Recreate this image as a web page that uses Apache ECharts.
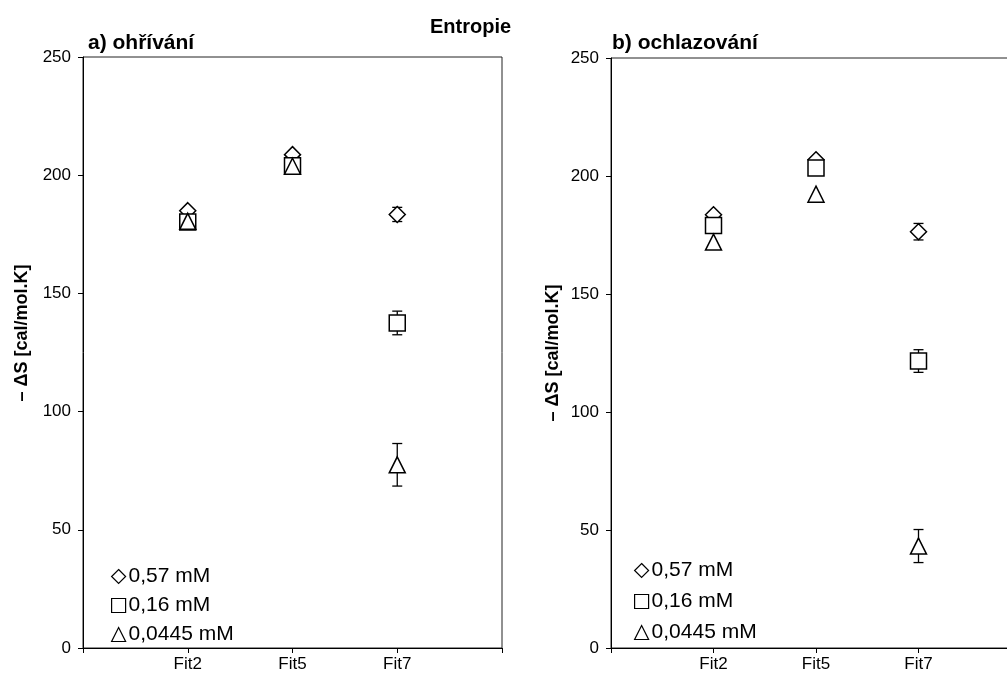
<!DOCTYPE html>
<html>
<head>
<meta charset="utf-8">
<script src="https://cdn.jsdelivr.net/npm/echarts@6/dist/echarts.min.js"></script>
<style>
html,body{margin:0;padding:0;background:#fff;}
#c{width:1007px;height:678px;}
</style>
</head>
<body>
<div id="c"></div>
<script>
// ---- data ----
var categories = ['Fit2', 'Fit5', 'Fit7'];
var seriesNames = ['0,57 mM', '0,16 mM', '0,0445 mM'];
var yTicks = [0, 50, 100, 150, 200, 250];

// a) heating
var heatHigh = [185, 208.7, 183.4];
var heatHighErr = [0, 0, 3];
var heatMid = [180.2, 204, 137.5];
var heatMidErr = [0, 0, 5];
var heatLow = [180.5, 203.8, 77.5];
var heatLowErr = [0, 0, 9];

// b) cooling
var coolHigh = [183.6, 206.9, 176.4];
var coolHighErr = [0, 0, 3.5];
var coolMid = [179, 203.4, 121.6];
var coolMidErr = [0, 0, 4.8];
var coolLow = [172, 192.3, 43.2];
var coolLowErr = [0, 0, 7];

var chart = echarts.init(document.getElementById('c'));
var FONT = 'Liberation Sans, Arial, sans-serif';
var symbols = ['diamond', 'rect', 'triangle'];

function pts(vals) {
  return vals.map(function (v, i) { return [i + 1, v]; });
}
function errPts(vals, errs) {
  var out = [];
  vals.forEach(function (v, i) {
    if (errs[i] > 0) out.push([i + 1, v - errs[i], v + errs[i]]);
  });
  return out;
}
function errRender(params, api) {
  var x = api.value(0);
  var lo = api.coord([x, api.value(1)]);
  var hi = api.coord([x, api.value(2)]);
  var hw = 5;
  var st = { stroke: '#000', lineWidth: 1.3 };
  return {
    type: 'group',
    children: [
      { type: 'line', shape: { x1: lo[0], y1: lo[1], x2: hi[0], y2: hi[1] }, style: st },
      { type: 'line', shape: { x1: lo[0] - hw, y1: lo[1], x2: lo[0] + hw, y2: lo[1] }, style: st },
      { type: 'line', shape: { x1: hi[0] - hw, y1: hi[1], x2: hi[0] + hw, y2: hi[1] }, style: st }
    ]
  };
}

function xAxisFor(gi) {
  return {
    gridIndex: gi, type: 'value', min: 0, max: 4, interval: 1,
    axisLine: { show: true, onZero: false, lineStyle: { color: '#000', width: 1 } },
    axisTick: { show: true, length: 5, lineStyle: { color: '#000' } },
    axisLabel: {
      color: '#000', fontSize: 17, fontFamily: FONT, margin: 8,
      formatter: function (v) { return categories[v - 1] || ''; }
    },
    splitLine: { show: false }
  };
}
function yAxisFor(gi) {
  return {
    gridIndex: gi, type: 'value', min: yTicks[0], max: yTicks[yTicks.length - 1], interval: 50,
    axisLine: { show: true, onZero: false, lineStyle: { color: '#000', width: 1 } },
    axisTick: { show: true, length: 5, lineStyle: { color: '#000' } },
    axisLabel: { color: '#000', fontSize: 17, fontFamily: FONT, margin: 12 },
    splitLine: { show: false }
  };
}

var sets = [
  { vals: [heatHigh, heatMid, heatLow], errs: [heatHighErr, heatMidErr, heatLowErr] },
  { vals: [coolHigh, coolMid, coolLow], errs: [coolHighErr, coolMidErr, coolLowErr] }
];

var series = [];
sets.forEach(function (s, gi) {
  s.vals.forEach(function (v, k) {
    series.push({
      type: 'custom', xAxisIndex: gi, yAxisIndex: gi, z: 2,
      renderItem: errRender, data: errPts(v, s.errs[k]), silent: true
    });
  });
  s.vals.forEach(function (v, k) {
    series.push({
      type: 'scatter', name: seriesNames[k], xAxisIndex: gi, yAxisIndex: gi, z: 3 + k,
      symbol: symbols[k], symbolSize: 16,
      itemStyle: { color: '#fff', borderColor: '#000', borderWidth: 1.5, opacity: 1 },
      data: pts(v), animation: false
    });
  });
});

function legendAt(left, top, gap) {
  return {
    orient: 'vertical', left: left, top: top, itemGap: gap,
    itemWidth: 14, itemHeight: 14,
    data: seriesNames,
    selectedMode: false,
    itemStyle: { color: '#fff', borderColor: '#000', borderWidth: 1.2 },
    textStyle: { color: '#000', fontSize: 21, fontFamily: FONT, padding: [0, 0, 0, -2] }
  };
}

var option = {
  backgroundColor: '#fff',
  animation: false,
  grid: [
    { left: 83, top: 57, width: 419, height: 591, show: true, borderColor: '#222', borderWidth: 1,
      backgroundColor: 'transparent', outerBoundsMode: 'none', containLabel: false },
    { left: 611, top: 58, width: 410, height: 590, show: true, borderColor: '#222', borderWidth: 1,
      backgroundColor: 'transparent', outerBoundsMode: 'none', containLabel: false }
  ],
  xAxis: [xAxisFor(0), xAxisFor(1)],
  yAxis: [yAxisFor(0), yAxisFor(1)],
  legend: [legendAt(106, 561, 8), legendAt(629, 555, 10)],
  series: series,
  graphic: [
    { type: 'text', left: 430, top: 17, style: { text: 'Entropie', font: 'bold 20px ' + FONT, fill: '#000' } },
    { type: 'text', left: 88, top: 33, style: { text: 'a) ohřívání', font: 'bold 21px ' + FONT, fill: '#000' } },
    { type: 'text', left: 612, top: 33, style: { text: 'b) ochlazování', font: 'bold 21px ' + FONT, fill: '#000' } },
    { type: 'text', x: 22, y: 333, rotation: Math.PI / 2,
      style: { text: '– ΔS [cal/mol.K]', font: 'bold 18px ' + FONT, fill: '#000', align: 'center', verticalAlign: 'middle' } },
    { type: 'text', x: 553, y: 353, rotation: Math.PI / 2,
      style: { text: '– ΔS [cal/mol.K]', font: 'bold 18px ' + FONT, fill: '#000', align: 'center', verticalAlign: 'middle' } }
  ]
};
chart.setOption(option);
</script>
</body>
</html>
